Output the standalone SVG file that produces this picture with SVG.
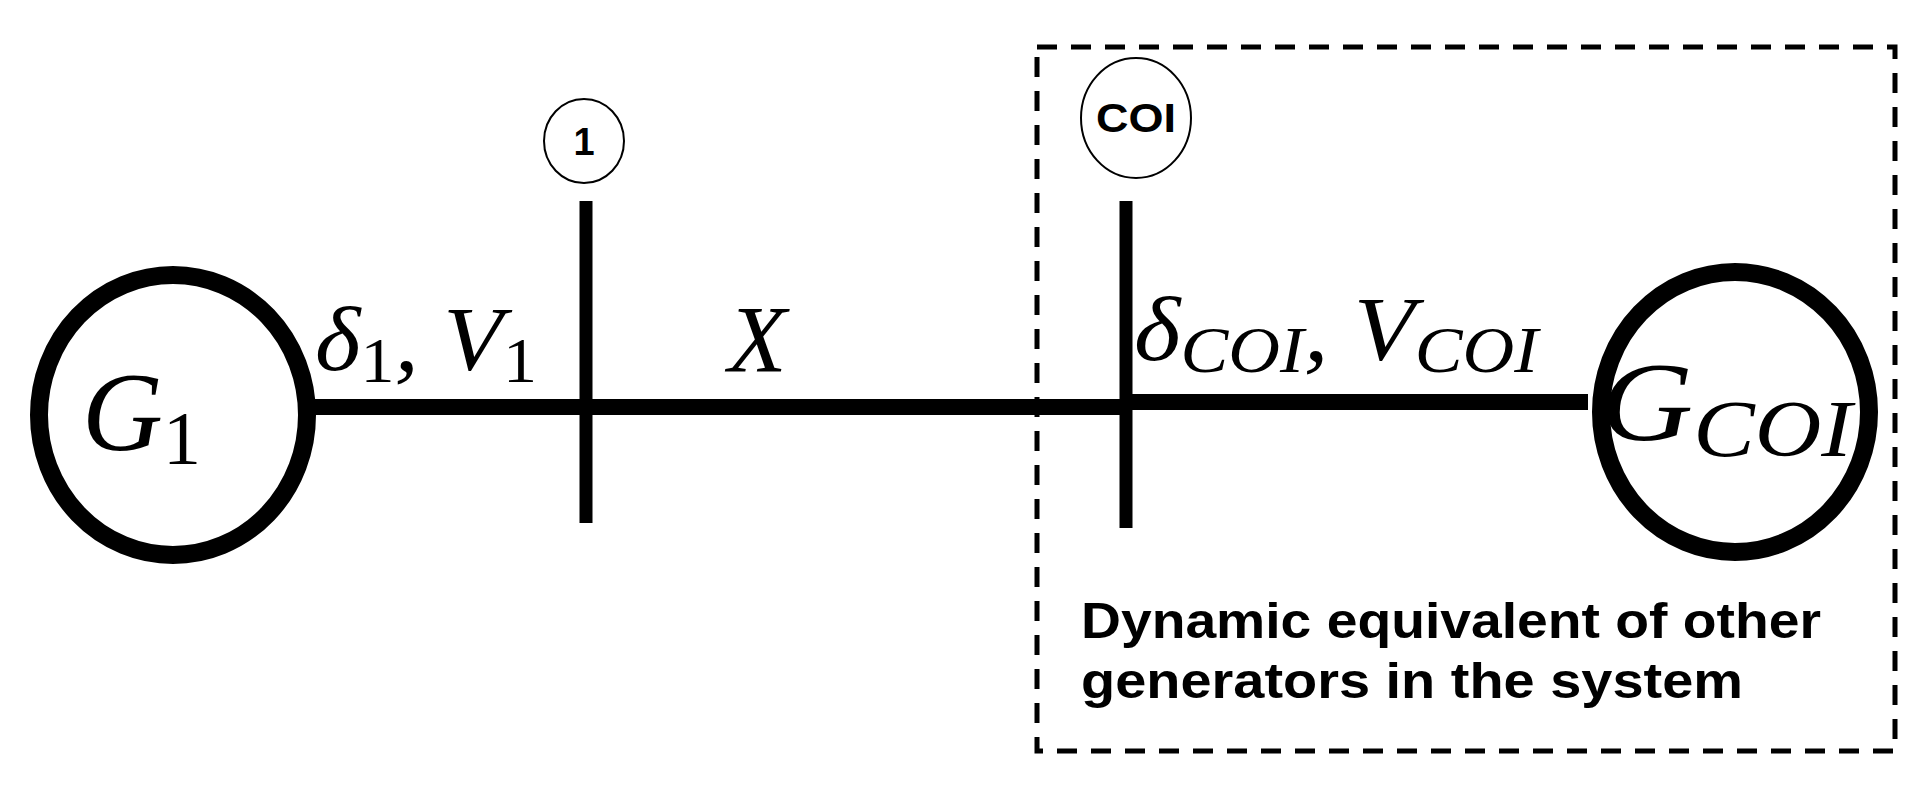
<svg xmlns="http://www.w3.org/2000/svg" width="1926" height="785" viewBox="0 0 1926 785">
<style>
.m{font-family:"Liberation Serif",serif;font-style:italic;fill:#000}
.u{font-style:normal}
.s{font-family:"Liberation Sans",Arial,sans-serif;font-weight:bold;fill:#000}
</style>
<rect width="1926" height="785" fill="#fff"/>
<g id="connectors" stroke="#000" fill="none">
<line x1="315" y1="407" x2="1126" y2="407" stroke-width="16"/>
<line x1="1126" y1="402" x2="1588" y2="402" stroke-width="16"/>
</g>
<g id="boundary"><rect x="1037" y="47" width="858" height="704" fill="none" stroke="#000" stroke-width="5" stroke-dasharray="20,14"/></g>
<g id="G1"><ellipse cx="173" cy="415" rx="134" ry="140" fill="none" stroke="#000" stroke-width="18"/>
<text class="m" x="82" y="450" font-size="112">G<tspan class="u" font-size="76" dy="14">1</tspan></text></g>
<g id="GCOI"><ellipse cx="1735" cy="412" rx="134" ry="140" fill="none" stroke="#000" stroke-width="18"/>
<text class="m" x="1600" y="440" font-size="112" textLength="252" lengthAdjust="spacingAndGlyphs">G<tspan font-size="80" dy="16">COI</tspan></text></g>
<g id="bus1"><line x1="586" y1="201" x2="586" y2="523" stroke="#000" stroke-width="13"/>
<ellipse cx="584" cy="141" rx="40" ry="42" fill="#fff" stroke="#000" stroke-width="2"/>
<text class="s" x="584" y="155" font-size="38" text-anchor="middle">1</text></g>
<g id="busCOI"><line x1="1126" y1="201" x2="1126" y2="528" stroke="#000" stroke-width="13"/>
<ellipse cx="1136" cy="118" rx="55" ry="60" fill="#fff" stroke="#000" stroke-width="2"/>
<text class="s" x="1136" y="132" font-size="40" text-anchor="middle" textLength="80" lengthAdjust="spacingAndGlyphs">COI</text></g>
<g id="labels">
<text class="m" x="315" y="370" font-size="92" textLength="222" lengthAdjust="spacingAndGlyphs">δ<tspan class="u" font-size="64" dy="12">1</tspan><tspan dy="-12">, V</tspan><tspan class="u" font-size="64" dy="12">1</tspan></text>
<text class="m" x="728" y="372" font-size="96">X</text>
<text class="m" x="1134" y="360" font-size="92" textLength="404" lengthAdjust="spacingAndGlyphs">δ<tspan font-size="66" dy="12">COI</tspan><tspan dy="-12">, V</tspan><tspan font-size="66" dy="12">COI</tspan></text>
<text class="s" x="1081" y="638" font-size="50" textLength="740" lengthAdjust="spacingAndGlyphs">Dynamic equivalent of other</text>
<text class="s" x="1081" y="698" font-size="50" textLength="662" lengthAdjust="spacingAndGlyphs">generators in the system</text>
</g>
</svg>
